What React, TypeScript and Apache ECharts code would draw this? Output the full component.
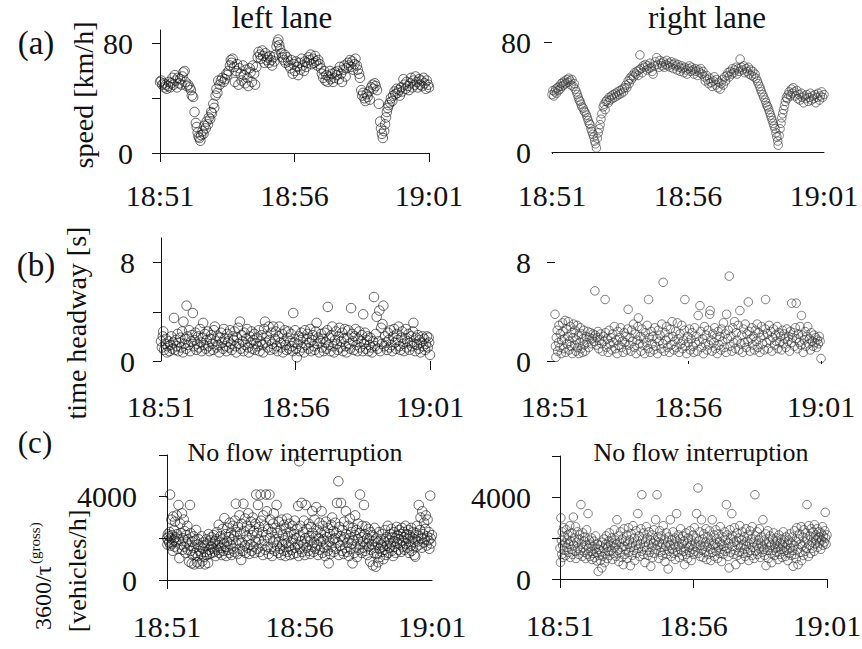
import React, { useEffect, useRef } from "react";
import * as echarts from "echarts";

const FONT = "Liberation Serif";

// x values: seconds after 18:51
const TIME_LABELS = ["18:51", "18:56", "19:01"];
const TITLES = ["left lane", "right lane"];
const SUBTITLE = "No flow interruption";

// (a) speed [km/h]
const speedLeft: number[][] = [
[0,52],[3,53],[5,50],[8,51],[10,48],[13,50],[15,47],[18,49],[20,52],[23,48],[25,51],[28,55],[30,50],[33,57],[35,53],[38,48],[40,55],[43,51],[45,54],[48,50],[50,56],[52,59],[55,60],[57,52],[60,49],
[63,50],[66,48],[69,46],[71,42],[74,41],[77,30],
[80,22],[82,19],[84,15],[86,12],[88,11],[90,9],[92,13],[95,16],[97,14],[99,20],[102,18],[104,23],[107,21],[109,26],[112,25],[114,30],[116,29],[119,36],[121,33],[124,42],[126,47],[128,44],[130,53],[133,50],
[136,53],[139,55],[142,52],[145,54],[148,58],[150,57],[153,60],[156,64],[158,68],[160,66],[162,69],
[165,63],[167,52],[170,60],[172,65],[175,50],[177,62],[180,58],[182,53],[185,64],[187,57],[190,51],[192,61],[195,55],[197,49],[200,62],[202,59],[205,52],[207,64],[210,58],[212,50],[215,63],
[218,70],[220,74],[223,72],[225,69],[228,75],[230,71],[233,66],[235,73],[238,68],[240,70],
[243,66],[245,71],[248,68],[250,64],[253,70],[255,67],[258,72],[260,78],[262,81],[264,83],[266,79],[268,76],[271,73],
[273,70],[276,68],[278,72],[280,66],[283,70],
[286,67],[288,64],[291,62],[293,68],[296,58],[298,65],[301,60],[303,67],[306,63],[308,57],[311,66],[313,61],[316,69],[318,64],[321,60],[323,67],[326,63],
[328,66],[331,70],[333,68],[336,72],[338,65],[341,69],[343,66],[346,71],[348,67],[351,64],[353,68],[356,65],
[359,62],[361,58],[364,55],[366,60],[369,53],[371,57],[374,52],[376,56],[379,60],[381,54],[384,58],[386,52],[389,55],[391,59],[394,57],
[396,60],[399,54],[401,63],[404,58],[406,52],[409,61],[411,64],[414,56],
[416,62],[419,66],[421,64],[424,68],[426,63],[429,67],[431,61],[434,65],[436,69],[439,64],[441,61],
[444,58],[446,55],[449,46],[451,42],[453,44],[456,40],[458,38],[461,43],[463,41],[466,45],[468,39],
[471,48],[474,50],[476,47],[479,51],[481,49],[484,46],
[488,36],[491,23],[493,18],[495,14],[497,11],[500,16],[502,21],
[504,26],[506,30],[508,33],[510,35],[513,37],[515,40],[518,38],[520,42],[523,45],[525,43],[528,47],[530,44],[533,46],[535,42],[538,48],[540,45],[543,54],
[545,50],[548,47],[550,52],[553,49],[555,46],[558,51],[560,55],[563,48],[565,53],[568,50],[570,56],[573,52],[575,48],[578,54],[580,50],[583,53],[585,49],[588,55],[590,51],[593,47],[595,53],[598,50],[600,48]
];

const speedRight: number[][] = [
[0,42],[2,45],[4,41],[6,44],[8,46],[10,43],[12,47],[14,45],[16,48],[18,46],[20,50],[22,48],[24,51],[26,49],[28,52],[30,50],[33,53],[35,51],[37,54],[40,52],[42,49],[44,53],[47,48],[49,50],[51,46],[54,44],[56,42],[58,40],[60,38],[62,37],[64,35],[66,33],[69,32],[71,30],[73,29],[76,27],[78,25],[80,23],[82,21],[84,20],[86,17],[88,15],[90,13],[92,11],[94,8],[96,6],[98,3],[100,10],[102,14],[104,17],[106,20],[108,24],[110,28],[113,33],[115,35],[117,31],[119,37],[121,38],[124,36],[126,40],[128,38],[131,41],[133,39],[135,42],[138,40],[140,43],[143,41],[145,44],[148,42],[150,45],[153,43],[155,46],[158,44],[160,47],[163,49],[165,47],[168,52],[170,50],[172,54],[175,53],[177,56],[180,55],[182,58],[185,57],[187,59],[190,56],[192,60],[194,71],[196,61],[199,58],[201,63],[204,62],[206,64],[209,60],[211,63],[214,61],[216,65],[219,62],[221,59],[223,57],[226,63],[228,66],[231,69],[233,64],[236,62],[238,67],[241,65],[243,63],[246,66],[248,62],[251,64],[253,67],[256,63],[258,65],[261,62],[263,66],[266,64],[268,61],[271,65],[273,63],[276,60],[278,64],[281,62],[283,59],[286,63],[288,61],[291,58],[293,62],[296,60],[298,57],[301,61],[303,63],[306,59],[308,62],[311,60],[313,57],[316,61],[318,59],[321,56],[323,60],[326,58],[328,61],[331,57],[333,59],[336,55],[338,52],[341,56],[343,53],[346,50],[348,54],[351,51],[353,48],[356,52],[358,55],[361,49],[363,53],[366,47],[368,51],[371,46],[373,50],[376,53],[378,49],[381,55],[383,52],[386,56],[388,58],[391,55],[393,59],[396,57],[398,61],[401,58],[403,60],[406,62],[408,57],[411,61],[413,59],[415,68],[418,62],[420,60],[423,63],[425,58],[428,61],[430,59],[433,62],[435,57],[438,60],[440,56],[443,59],[445,55],[448,57],[450,54],[453,52],[455,50],[458,48],[460,46],[462,44],[465,42],[467,40],[470,38],[472,36],[474,34],[476,33],[478,31],[480,29],[482,27],[484,25],[486,23],[488,21],[490,19],[492,17],[494,14],[496,11],[498,8],[499,5],[501,12],[503,17],[505,21],[507,25],[509,28],[511,31],[513,34],[515,37],[517,40],[519,39],[521,42],[523,44],[526,41],[528,46],[530,43],[532,47],[535,44],[537,41],[540,45],[542,39],[545,42],[547,38],[550,43],[552,40],[555,36],[557,41],[560,39],[562,42],[565,37],[567,40],[570,43],[572,38],[575,41],[577,39],[580,42],[582,36],[585,40],[587,43],[590,38],[592,41],[595,44],[597,40],[600,42]
];

// (b) time headway [s]
const headwayLeft: number[][] = [
[0,1.6],[2,1.1],[4,2.0],[5,2.4],[7,0.9],[9,1.4],[11,1.8],[13,0.7],[15,1.2],[17,1.6],[19,0.8],[21,1.3],[23,2.0],[25,1.0],[27,1.5],[29,3.5],[31,0.9],[33,1.7],[35,1.2],[37,2.2],[39,0.8],[41,1.5],[43,1.9],[45,1.1],[47,2.4],[49,0.7],[50,3.2],[52,1.4],[54,1.8],[56,1.0],[57,4.5],[59,2.0],[61,1.3],[63,2.5],[65,0.8],[67,1.6],[69,2.1],[71,3.9],[73,1.2],[75,1.7],[77,2.3],[79,0.9],[81,1.4],[83,2.0],[85,1.1],[87,2.6],[89,1.5],[91,0.8],[93,1.9],[94,3.1],[96,1.3],[98,2.2],[100,1.0],[102,1.7],[104,2.4],[106,1.2],[108,0.8],[110,1.8],[112,2.1],[114,1.4],[116,0.9],[118,2.5],[120,2.8],[122,1.6],[124,1.1],[126,2.0],[128,1.3],[130,0.7],[132,1.9],[134,2.3],[136,1.5],[138,1.0],[140,2.6],[142,1.8],[144,1.2],[146,0.8],[148,2.2],[150,1.6],[152,1.1],[154,2.5],[156,1.4],[158,0.9],[160,2.0],[162,1.7],[164,2.4],[166,1.2],[168,0.7],[170,1.9],[172,2.7],[174,1.4],[176,3.2],[178,1.0],[180,2.1],[182,1.6],[184,0.8],[186,2.3],[188,1.3],[190,1.8],[192,2.6],[194,1.1],[196,0.7],[198,2.0],[200,1.5],[202,2.4],[204,1.0],[206,1.7],[208,2.2],[210,0.9],[212,1.4],[214,1.9],[216,1.2],[218,2.5],[220,0.8],[222,1.6],[224,2.1],[226,1.3],[228,0.7],[230,2.6],[232,3.2],[234,1.5],[236,2.0],[238,1.1],[240,2.8],[242,1.7],[244,0.9],[246,2.3],[248,1.4],[250,2.8],[252,1.0],[254,1.8],[256,2.4],[258,1.2],[260,0.8],[262,2.0],[264,2.8],[266,1.5],[268,1.1],[270,2.2],[272,0.7],[274,1.6],[276,2.5],[278,1.3],[280,0.9],[282,1.9],[284,2.4],[286,1.0],[288,1.6],[290,2.2],[292,1.2],[294,0.8],[295,3.9],[297,1.5],[299,2.5],[301,1.0],[303,0.3],[305,1.4],[307,2.0],[309,0.8],[311,1.7],[313,2.3],[315,1.1],[317,1.9],[319,0.7],[321,2.5],[323,1.3],[325,1.8],[327,2.2],[329,1.0],[331,1.5],[333,2.6],[335,0.8],[337,1.7],[339,2.1],[341,1.2],[343,0.9],[345,2.4],[347,3.1],[349,1.4],[351,1.9],[353,0.7],[355,1.6],[357,2.2],[359,1.1],[361,1.8],[363,0.8],[365,2.3],[367,1.5],[369,1.0],[371,2.5],[372,4.4],[374,1.3],[376,1.9],[378,0.8],[380,2.1],[382,2.8],[384,1.2],[386,0.7],[388,1.7],[390,2.4],[392,1.4],[394,0.9],[396,2.0],[398,2.7],[400,1.1],[402,1.6],[404,2.3],[406,0.8],[408,1.8],[410,2.6],[412,1.2],[414,0.7],[416,1.9],[418,2.5],[420,1.4],[422,1.0],[424,4.3],[426,2.2],[428,1.6],[430,0.9],[432,2.0],[434,2.6],[436,1.3],[438,0.8],[440,1.8],[442,2.4],[444,1.1],[446,1.6],[448,2.1],[450,0.8],[451,3.8],[453,1.4],[455,2.3],[457,1.0],[459,1.7],[461,2.0],[463,0.8],[465,1.3],[467,1.9],[469,1.1],[471,0.7],[473,1.6],[475,5.2],[477,1.2],[479,2.2],[481,3.6],[483,1.0],[485,1.6],[487,4.1],[489,0.8],[491,2.7],[493,1.4],[494,3.0],[496,4.5],[498,1.2],[500,2.0],[502,1.5],[504,0.9],[506,2.3],[508,1.7],[510,1.1],[512,2.5],[514,1.3],[516,0.8],[518,2.0],[520,2.6],[522,1.5],[524,1.0],[526,2.2],[528,1.7],[530,2.8],[532,1.2],[534,0.9],[536,1.9],[538,2.4],[540,1.4],[542,0.8],[544,1.8],[546,2.6],[548,1.1],[550,1.6],[552,2.2],[554,0.9],[556,1.5],[558,2.0],[560,1.2],[562,2.4],[563,3.1],[565,1.4],[567,0.8],[569,1.9],[571,1.3],[573,2.1],[575,1.0],[577,1.7],[579,0.7],[581,1.5],[583,2.0],[585,1.2],[587,1.8],[589,0.9],[591,1.4],[593,2.0],[595,1.1],[597,1.9],[598,1.5],[600,0.5]
];

const headwayRight: number[][] = [
[0,3.8],[1,1.2],[2,0.3],[3,1.9],[5,2.5],[6,0.8],[8,1.5],[9,2.9],[11,1.1],[12,2.2],[14,0.6],[15,1.7],[17,3.1],[18,2.4],[20,1.0],[21,1.8],[23,3.3],[24,0.7],[26,2.6],[27,1.4],[29,2.0],[30,3.2],[32,0.9],[33,1.6],[35,2.8],[36,1.2],[38,2.3],[39,0.6],[41,1.9],[42,3.0],[44,1.3],[45,2.5],[47,0.8],[48,1.7],[50,2.9],[51,1.1],[53,2.1],[54,0.6],[56,1.5],[57,2.7],[59,1.0],[60,2.2],[62,0.7],[63,1.8],[65,2.5],[66,1.3],[68,0.8],[70,2.0],[72,1.5],[74,2.4],[76,1.1],[78,1.9],[80,2.3],[82,1.4],[84,1.8],[86,2.2],[88,1.6],[90,5.7],[91,2.1],[93,1.3],[95,1.9],[97,2.4],[99,1.0],[101,1.7],[103,2.2],[105,1.4],[107,0.8],[109,2.0],[111,1.6],[113,5.0],[114,2.3],[116,1.1],[118,1.8],[120,0.7],[122,2.5],[124,1.4],[126,1.9],[128,0.9],[130,2.2],[132,1.5],[134,2.8],[136,1.0],[138,1.7],[140,0.6],[142,2.4],[144,1.3],[146,1.9],[148,2.7],[150,1.1],[152,1.6],[154,0.7],[156,2.3],[158,1.5],[160,2.0],[162,0.9],[164,2.6],[165,4.2],[167,1.3],[169,1.9],[171,0.8],[173,2.5],[175,1.6],[177,3.0],[179,1.1],[181,2.2],[183,0.6],[185,1.7],[187,2.8],[188,3.5],[190,1.4],[192,2.0],[194,0.8],[196,2.6],[198,1.3],[200,1.8],[202,0.6],[204,2.3],[206,1.5],[208,2.9],[210,1.0],[211,5.0],[213,1.9],[215,0.7],[217,2.4],[219,1.4],[221,2.0],[223,0.9],[225,2.7],[227,1.2],[229,1.8],[231,0.6],[233,2.5],[235,1.6],[237,2.1],[239,1.0],[241,3.0],[243,1.4],[244,6.4],[246,0.8],[248,2.3],[250,1.7],[252,2.8],[254,1.1],[256,1.9],[258,0.7],[260,2.6],[262,1.3],[264,3.2],[266,2.0],[268,0.9],[270,1.6],[272,2.4],[274,1.1],[276,3.1],[278,1.8],[280,0.7],[282,2.2],[284,1.4],[286,2.9],[288,1.0],[290,1.7],[292,2.5],[293,5.0],[295,1.2],[297,0.6],[299,2.0],[301,1.5],[303,2.6],[305,0.9],[307,1.8],[309,2.3],[311,1.2],[313,0.7],[315,2.7],[317,1.5],[319,2.0],[321,0.8],[323,3.7],[325,1.6],[327,4.5],[329,2.4],[331,1.1],[333,1.8],[335,0.6],[337,2.8],[339,1.4],[341,2.1],[343,0.9],[345,2.5],[347,1.3],[349,3.8],[350,4.1],[352,1.7],[354,0.8],[356,2.2],[358,1.5],[360,2.7],[362,1.0],[364,1.9],[366,0.6],[368,2.4],[370,1.3],[372,2.0],[374,0.9],[376,2.6],[378,1.6],[380,3.1],[382,1.1],[384,2.2],[386,0.7],[387,3.8],[389,1.8],[391,2.5],[393,6.9],[395,1.2],[397,2.0],[399,0.8],[401,2.7],[403,1.5],[405,3.2],[407,1.0],[409,2.3],[411,1.7],[413,2.9],[415,0.9],[417,4.1],[419,1.4],[421,2.1],[423,0.7],[425,2.6],[427,1.5],[429,3.0],[431,1.1],[433,2.2],[435,1.6],[436,4.8],[438,2.4],[440,0.8],[442,1.8],[444,2.7],[446,1.3],[448,2.0],[450,0.9],[452,2.5],[454,1.6],[456,3.0],[458,1.1],[460,2.3],[462,0.7],[464,1.9],[466,2.8],[468,1.4],[470,2.1],[472,0.9],[474,2.6],[475,5.0],[477,1.5],[479,2.2],[481,1.0],[483,2.9],[485,1.7],[487,2.4],[489,0.8],[491,1.9],[493,2.6],[495,1.3],[497,2.1],[499,1.6],[501,2.8],[503,1.0],[505,2.3],[507,1.5],[509,2.0],[511,0.9],[513,2.5],[515,1.4],[517,2.2],[519,1.8],[521,1.1],[523,2.6],[525,1.6],[527,2.0],[529,0.8],[531,2.4],[533,1.5],[534,4.7],[536,1.9],[538,2.3],[540,1.2],[542,2.7],[544,4.7],[545,1.8],[547,1.0],[549,2.2],[551,1.5],[553,2.8],[555,1.3],[556,3.7],[558,2.1],[560,0.7],[562,1.7],[564,2.4],[566,1.2],[568,2.0],[570,2.8],[572,1.4],[574,1.8],[576,0.9],[578,2.3],[580,1.6],[582,1.2],[584,2.1],[586,1.5],[588,1.9],[590,1.1],[592,1.7],[594,1.4],[596,2.0],[598,1.6],[600,0.2]
];

// (c) 3600/tau(gross) [vehicles/h]
const flowLeft: number[][] = [
[0,2000],[1,1700],[2,2200],[3,1900],[4,2100],[5,1800],[6,2300],[7,4100],[8,1650],[9,2000],[10,2900],[11,1750],[12,2150],[13,1400],[14,3050],[15,1900],[16,2400],[17,1600],[18,2800],[19,2050],[20,1850],[22,3100],[23,2200],[24,1500],[26,3600],[27,1950],[28,1050],[30,2700],[31,2250],[32,1700],[34,3200],[35,1450],[36,2000],[38,2900],[39,1600],[40,2350],[42,1300],[43,2150],[44,1800],[46,2600],[47,1450],[48,1950],[50,880],[51,1650],[52,3600],[53,2250],[54,1400],[56,800],[57,1850],[58,1200],[60,2100],[61,1550],[62,750],[64,1900],[65,1300],[66,2400],[68,850],[69,1700],[70,1150],[72,1950],[73,1400],[74,780],[76,1600],[77,1250],[78,2100],[80,900],[81,1500],[82,1800],[84,1100],[85,1650],[86,750],[88,1350],[89,1950],[90,1200],[92,1700],[93,820],[94,2200],[96,1450],[97,1250],[98,1900],[100,1600],[101,2050],[102,1300],[104,1750],[105,1500],[106,2150],[108,1350],[109,1850],[110,1150],[112,1950],[113,2300],[114,1450],[116,1650],[117,2650],[118,1300],[120,1800],[121,2100],[122,1550],[124,1200],[125,1950],[126,2450],[128,1400],[129,1750],[130,2970],[132,1600],[133,2200],[134,1150],[136,1850],[137,2500],[138,1450],[140,2050],[141,1300],[142,2750],[144,1700],[145,2250],[146,1200],[148,1950],[149,2600],[150,1500],[152,2100],[153,1350],[154,2850],[156,3660],[157,1750],[158,2300],[160,1250],[161,2550],[162,1900],[164,3100],[165,1500],[166,2200],[168,960],[169,2700],[170,1800],[172,1400],[173,3660],[174,2350],[176,1650],[177,2950],[178,1300],[180,2100],[181,2600],[182,1550],[184,3200],[185,1900],[186,1250],[188,2450],[189,1700],[190,2800],[192,1400],[193,2150],[194,3000],[196,1600],[197,2350],[198,1300],[200,2700],[201,1850],[202,4100],[204,2250],[205,1500],[206,3600],[208,1950],[209,2550],[210,1350],[212,4100],[213,2850],[214,1700],[216,2300],[217,1200],[218,3100],[220,1900],[221,2600],[222,1450],[224,4100],[225,2150],[226,3300],[228,1600],[229,2450],[230,1250],[232,4100],[233,2000],[234,2900],[236,1500],[237,2300],[238,1150],[240,2700],[241,1800],[242,3200],[244,1400],[245,2500],[246,1950],[248,3600],[249,1650],[250,2250],[252,1300],[253,2800],[254,1850],[256,1500],[257,2400],[258,1200],[260,2900],[261,1700],[262,2150],[264,1400],[265,2650],[266,1900],[268,1150],[269,2450],[270,1750],[272,2950],[273,1350],[274,2100],[276,1600],[277,2700],[278,1200],[280,2300],[281,1800],[282,1450],[284,2600],[285,1950],[286,1250],[288,2200],[289,2850],[290,1550],[292,2000],[293,1300],[294,2450],[296,1700],[297,3550],[298,1150],[299,5700],[300,2100],[301,1500],[302,2600],[304,1850],[305,3700],[306,1350],[308,2300],[309,1700],[310,2850],[312,1200],[313,2000],[314,3600],[316,1550],[317,2450],[318,1850],[320,1400],[321,2700],[322,2100],[324,1250],[325,1900],[326,2550],[328,1600],[329,3300],[330,2250],[332,1350],[333,1800],[334,2900],[336,1500],[337,2100],[338,3500],[340,1700],[341,2400],[342,1200],[344,2000],[345,2750],[346,1450],[348,2250],[349,1850],[350,3300],[352,1300],[353,2600],[354,1950],[356,1550],[357,2300],[358,1150],[360,2800],[361,1700],[362,2050],[364,1400],[365,2500],[366,800],[368,1850],[369,2200],[370,1250],[372,2650],[373,1600],[374,3000],[376,1950],[377,2350],[378,1350],[380,2000],[381,2750],[382,1500],[384,2250],[385,3700],[386,1800],[388,4740],[389,1200],[390,2550],[392,1650],[393,2100],[394,3700],[396,1400],[397,2400],[398,1900],[400,1250],[401,2800],[402,2050],[404,1550],[405,3300],[406,2200],[408,1350],[409,1800],[410,2600],[412,1150],[413,2000],[414,2950],[416,1500],[417,2300],[418,1750],[420,800],[421,2500],[422,1900],[424,1300],[425,2150],[426,3100],[428,1600],[429,2400],[430,1100],[432,1950],[433,2700],[434,1450],[436,2250],[437,4100],[438,1700],[440,2050],[441,1300],[442,2600],[444,1850],[445,1550],[446,3600],[448,2200],[449,1400],[450,2570],[452,1750],[453,2000],[454,1200],[456,2450],[457,1600],[458,1950],[460,880],[461,2300],[462,1450],[464,1700],[465,2150],[466,700],[468,1850],[469,1300],[470,2500],[472,1550],[473,640],[474,2000],[476,1250],[477,1800],[478,850],[480,2300],[481,1500],[482,1100],[484,1950],[485,1700],[486,1350],[488,2200],[489,1600],[490,1000],[492,1850],[493,1450],[494,2400],[496,1200],[497,2050],[498,1650],[500,2600],[501,1300],[502,1900],[504,1550],[505,2200],[506,1750],[508,2450],[509,1400],[510,2050],[512,1150],[513,1850],[514,2300],[516,1600],[517,2000],[518,1300],[520,2550],[521,1800],[522,2150],[524,1450],[525,1950],[526,2400],[528,1700],[529,2200],[530,1350],[532,2500],[533,1900],[534,1600],[536,2300],[537,2050],[538,1450],[540,2600],[541,1750],[542,2200],[544,1550],[545,2000],[546,2400],[548,1300],[549,1850],[550,2150],[552,1650],[553,2500],[554,1400],[556,2000],[557,1800],[558,2300],[560,1200],[561,1950],[562,1120],[564,2250],[565,1600],[566,2600],[568,1850],[569,2100],[570,3600],[572,1700],[573,2400],[574,3000],[576,2000],[577,1550],[578,3300],[580,2200],[581,1800],[582,2750],[584,1950],[585,2450],[586,3100],[588,1650],[589,2100],[590,2900],[592,1900],[593,2300],[594,1500],[596,4050],[597,2000],[598,1750],[600,2150]
];

const flowRight: number[][] = [
[0,1500],[1,810],[2,2980],[3,1900],[4,1200],[5,2300],[6,1650],[7,1050],[8,2500],[9,1400],[10,2050],[12,1750],[13,1150],[14,2400],[15,1550],[16,1900],[18,2150],[19,1300],[20,1700],[22,2600],[23,1050],[24,1850],[26,1450],[27,2250],[28,1200],[30,3020],[31,1650],[32,2000],[34,1350],[35,2550],[36,1000],[38,1800],[39,2300],[40,1500],[42,1200],[43,1950],[44,2150],[46,1400],[47,3630],[48,1700],[50,1100],[51,2250],[52,1550],[54,1850],[55,1300],[56,2050],[58,1000],[59,1650],[60,2400],[62,1200],[63,3190],[64,1500],[66,1900],[67,1100],[68,1700],[70,1350],[71,2000],[72,950],[74,1600],[75,1250],[76,1850],[78,1050],[79,1500],[80,2100],[82,1300],[83,880],[84,1700],[86,370],[87,1450],[88,1150],[90,1650],[91,900],[92,1350],[94,540],[95,1800],[96,1100],[98,1500],[99,1950],[100,800],[102,1250],[103,1700],[104,2100],[106,1000],[107,1550],[108,1350],[110,1850],[111,2250],[112,1150],[114,1650],[115,1400],[116,2000],[118,950],[119,1750],[120,1250],[122,2400],[123,1550],[124,1900],[126,1100],[127,1700],[128,2890],[130,1400],[131,2100],[132,850],[134,1800],[135,1300],[136,2300],[138,1550],[139,1050],[140,1950],[142,700],[143,1600],[144,2450],[146,1200],[147,1850],[148,1450],[150,2150],[151,1000],[152,1700],[154,2500],[155,1300],[156,1900],[158,650],[159,1550],[160,2200],[162,1150],[163,1750],[164,2600],[166,1400],[167,2000],[168,900],[170,1650],[171,2350],[172,1250],[174,1850],[175,3190],[176,1500],[178,2100],[179,1100],[180,1700],[182,2450],[183,1350],[184,4110],[186,1950],[187,1200],[188,2250],[190,1550],[191,800],[192,1800],[194,2550],[195,1400],[196,2000],[198,1150],[199,1700],[200,2300],[202,1300],[203,1900],[204,620],[206,1550],[207,2150],[208,1050],[210,1750],[211,2400],[212,1250],[214,1900],[215,2890],[216,1450],[218,4110],[219,1650],[220,2050],[222,1000],[223,1800],[224,2350],[226,1300],[227,1550],[228,2100],[230,1150],[231,1700],[232,2600],[234,1400],[235,1950],[236,850],[238,1600],[239,2250],[240,1200],[242,1800],[243,490],[244,2050],[246,1350],[247,1650],[248,2890],[250,1100],[251,1900],[252,1450],[254,2300],[255,1250],[256,1700],[258,2000],[259,950],[260,1550],[262,3190],[263,1850],[264,1300],[266,2150],[267,1600],[268,1050],[270,1950],[271,2450],[272,1400],[274,1700],[275,1150],[276,2100],[278,1350],[279,1850],[280,700],[282,1500],[283,2250],[284,1200],[286,1750],[287,1000],[288,2000],[290,1550],[291,1300],[292,2350],[294,1650],[295,900],[296,1900],[298,1450],[299,2150],[300,1200],[302,2500],[303,1700],[304,1350],[306,2000],[307,3190],[308,1550],[310,4440],[311,1250],[312,1850],[314,2300],[315,1100],[316,1650],[318,2890],[319,1400],[320,1950],[322,1050],[323,2200],[324,1600],[326,1300],[327,1800],[328,2450],[330,950],[331,1550],[332,2050],[334,1200],[335,1750],[336,2350],[338,1450],[339,900],[340,1900],[342,2890],[343,1300],[344,1650],[346,2150],[347,1100],[348,1700],[350,2400],[351,1350],[352,1950],[354,1000],[355,1550],[356,2200],[358,1250],[359,1800],[360,2550],[362,1450],[363,850],[364,1700],[366,2050],[367,1200],[368,1600],[370,2300],[371,1350],[372,1900],[374,3630],[375,1500],[376,2150],[378,1100],[379,1750],[380,540],[382,2400],[383,1300],[384,1950],[386,3190],[387,1600],[388,2100],[390,1200],[391,1800],[392,2500],[394,1400],[395,700],[396,1850],[398,2250],[399,1150],[400,1650],[402,2000],[403,1300],[404,2600],[406,1550],[407,950],[408,1900],[410,2300],[411,1250],[412,1700],[414,2050],[415,1450],[416,1100],[418,2450],[419,1600],[420,1850],[422,1300],[423,2150],[424,900],[426,1700],[427,2350],[428,1400],[430,1950],[431,1150],[432,2550],[434,1550],[435,1800],[436,1000],[438,4110],[439,2100],[440,1350],[442,1650],[443,2300],[444,1200],[446,1900],[447,1500],[448,2450],[450,1050],[451,1750],[452,2050],[454,1300],[455,1600],[456,2890],[458,1450],[459,1900],[460,1150],[462,2200],[463,650],[464,1700],[466,1400],[467,2350],[468,1000],[470,1800],[471,1550],[472,2100],[474,1250],[475,1650],[476,800],[478,1950],[479,1400],[480,2250],[482,1150],[483,1700],[484,1500],[486,2000],[487,1300],[488,1850],[490,950],[491,1550],[492,2150],[494,1200],[495,1750],[496,1450],[498,1950],[499,1050],[500,1650],[502,2300],[503,1350],[504,1800],[506,1550],[507,1100],[508,2050],[510,1400],[511,1700],[512,900],[514,1900],[515,1250],[516,2200],[518,1500],[519,1750],[520,1150],[522,2050],[523,1400],[524,620],[526,1650],[527,2350],[528,1200],[530,1850],[531,1000],[532,2500],[534,1450],[535,700],[536,1950],[538,2200],[539,1300],[540,1700],[542,2550],[543,900],[544,1600],[546,2050],[547,1150],[548,2400],[550,1800],[551,1350],[552,2250],[554,1500],[555,3630],[556,1950],[558,1100],[559,2600],[560,1650],[562,2100],[563,1250],[564,2450],[566,1800],[567,1500],[568,2300],[570,2000],[571,1350],[572,2650],[574,1700],[575,2150],[576,1900],[578,2450],[579,1550],[580,2000],[582,2300],[583,1750],[584,2050],[586,1450],[587,2250],[588,1900],[590,2550],[591,1650],[592,2100],[594,1800],[595,2350],[596,3250],[597,2000],[598,1700],[600,2150]
];

const PANEL_DATA = [speedLeft, speedRight, headwayLeft, headwayRight, flowLeft, flowRight];

function buildOption() {
  const grids = [
    { left: 160, top: 30, width: 269, height: 123 },
    { left: 552, top: 29, width: 272, height: 123 },
    { left: 161, top: 238, width: 269, height: 123 },
    { left: 555, top: 238, width: 266, height: 123 },
    { left: 167, top: 455, width: 265, height: 125 },
    { left: 560, top: 456, width: 267, height: 123 },
  ].map((g) => ({ ...g, containLabel: false, outerBoundsMode: "none" }));

  const xAxisCfg = [
    { line: true, ticks: [0, 300, 600], tickLen: 9, margin: 27 },
    { line: true, ticks: [0], tickLen: 2, margin: 28 },
    { line: false, ticks: [300, 600], tickLen: 9, margin: 30 },
    { line: false, ticks: [300, 600], tickLen: 3, margin: 30 },
    { line: true, ticks: [0], tickLen: 9, margin: 31 },
    { line: true, ticks: [0, 300, 600], tickLen: 9, margin: 31 },
  ];
  const xAxes = xAxisCfg.map((c, i) => ({
    type: "value",
    gridIndex: i,
    min: 0,
    max: 600,
    interval: 300,
    axisLine: { show: c.line, lineStyle: { color: "#111", width: 1 } },
    axisTick: { show: true, length: c.tickLen, customValues: c.ticks, lineStyle: { color: "#111", width: 1 } },
    axisLabel: {
      fontFamily: FONT,
      fontSize: 30,
      color: "#111",
      margin: c.margin,
      formatter: (v: number) => TIME_LABELS[Math.round(v / 300)] ?? "",
    },
    splitLine: { show: false },
  }));

  const yAxisCfg = [
    { max: 90, interval: 30, line: true, ticks: [0, 40, 80], labels: [0, 80], margin: 27 },
    { max: 90, interval: 30, line: false, ticks: [80], labels: [0, 80], margin: 21 },
    { max: 10, interval: 2, line: true, ticks: [0, 4, 8], labels: [0, 8], margin: 26 },
    { max: 10, interval: 2, line: false, ticks: [0, 8], labels: [0, 8], margin: 24 },
    { max: 6000, interval: 2000, line: true, ticks: [0, 2000, 4000, 6000], labels: [0, 4000], margin: 30 },
    { max: 6000, interval: 2000, line: true, ticks: [0, 2000, 4000, 6000], labels: [0, 4000], margin: 29 },
  ];
  const yAxes = yAxisCfg.map((c, i) => ({
    type: "value",
    gridIndex: i,
    min: 0,
    max: c.max,
    interval: c.interval,
    axisLine: { show: c.line, lineStyle: { color: "#111", width: 1 } },
    axisTick: { show: true, length: 8, customValues: c.ticks, lineStyle: { color: "#111", width: 1 } },
    axisLabel: {
      fontFamily: FONT,
      fontSize: 30,
      color: "#111",
      margin: c.margin,
      customValues: c.labels,
      formatter: (v: number) => String(v),
    },
    splitLine: { show: false },
  }));

  const series = PANEL_DATA.map((d, i) => ({
    type: "scatter",
    xAxisIndex: i,
    yAxisIndex: i,
    data: d,
    symbol: "circle",
    symbolSize: i % 2 === 0 ? 9.5 : 8.5,
    silent: true,
    itemStyle: {
      color: "rgba(0,0,0,0)",
      borderColor: i % 2 === 0 ? "#111" : "#333",
      borderWidth: 0.8,
    },
  }));

  const txt = (x: number, y: number, text: string, size: number, extra: any = {}) => ({
    type: "text",
    x,
    y,
    silent: true,
    ...extra,
    style: {
      text,
      fontFamily: FONT,
      fontSize: size,
      fill: "#111",
      align: extra.align ?? "center",
      verticalAlign: "middle",
      textAlign: extra.align ?? "center",
      textVerticalAlign: "middle",
    },
  });

  const rot = { rotation: Math.PI / 2 };
  const graphic = [
    txt(282, 17, TITLES[0], 31),
    txt(707, 17, TITLES[1], 31),
    txt(295, 452, SUBTITLE, 26),
    txt(701, 452, SUBTITLE, 26),
    txt(36, 43, "(a)", 33),
    txt(36, 265, "(b)", 33),
    txt(35, 442, "(c)", 31),
    txt(83, 95, "speed [km/h]", 28, rot),
    txt(76, 323, "time headway [s]", 28, rot),
    txt(43, 630, "3600/τ", 24, { ...rot, align: "left" }),
    txt(35, 564, "(gross)", 15, { ...rot, align: "left" }),
    txt(77, 571, "[vehicles/h]", 26, rot),
  ];

  return {
    animation: false,
    backgroundColor: "#fff",
    grid: grids,
    xAxis: xAxes,
    yAxis: yAxes,
    series,
    graphic,
  };
}

export default function App() {
  const ref = useRef<HTMLDivElement>(null);
  useEffect(() => {
    if (!ref.current) return;
    const chart = echarts.init(ref.current, null, { renderer: "svg" });
    chart.setOption(buildOption() as any);
    return () => chart.dispose();
  }, []);
  return (
    <div
      ref={ref}
      style={{ position: "absolute", left: 0, top: 0, width: 862, height: 649, background: "#fff" }}
    />
  );
}
